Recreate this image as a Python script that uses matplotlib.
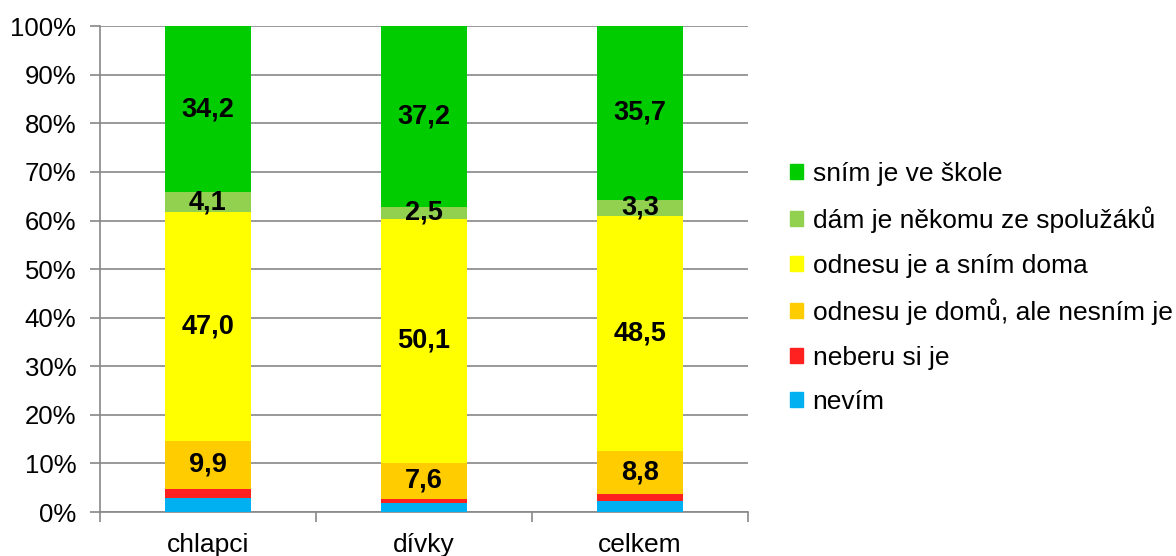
import numpy as np
import matplotlib.pyplot as plt
from matplotlib.patches import Patch

plt.rcParams['font.family'] = ['Liberation Sans', 'DejaVu Sans']

kategorie = ['chlapci', 'dívky', 'celkem']
serie = ['nevím', 'neberu si je', 'odnesu je domů, ale nesním je',
         'odnesu je a sním doma', 'dám je někomu ze spolužáků', 'sním je ve škole']
nevim = [2.8, 1.9, 2.3]
neberu = [2.0, 0.7, 1.4]
domu_nesnim = [9.9, 7.6, 8.8]
doma = [47.0, 50.1, 48.5]
spoluzaci = [4.1, 2.5, 3.3]
ve_skole = [34.2, 37.2, 35.7]
barvy = ['#00B0F0', '#FF2020', '#FFCC00', '#FFFF00', '#92D050', '#00CC00']

hodnoty = [nevim, neberu, domu_nesnim, doma, spoluzaci, ve_skole]
popisky = [False, False, True, True, True, True]

fig = plt.figure(figsize=(11.76, 5.56), dpi=100)
ax = fig.add_axes([0.085, 0.079, 0.551, 0.874])

x = np.arange(len(kategorie))
spodek = np.zeros(len(kategorie))
for vals, barva, pop in zip(hodnoty, barvy, popisky):
    vals = np.array(vals)
    ax.bar(x, vals, 0.395, bottom=spodek, color=barva, zorder=3)
    if pop:
        for xi, v, b in zip(x, vals, spodek):
            ax.text(xi, b + v / 2, f'{v:.1f}'.replace('.', ','), ha='center', va='center',
                    fontsize=19.5, fontweight='bold', zorder=4)
    spodek += vals

ax.set_xlim(-0.5, 2.5)
ax.set_ylim(0, 100)
ax.set_yticks(np.arange(0, 101, 10))
ax.set_yticklabels([f'{t}%' for t in range(0, 101, 10)], fontsize=18.5)
ax.yaxis.grid(True, color='#888888', linewidth=1.2, zorder=0)
ax.set_xticks(x)
ax.set_xticklabels(kategorie, fontsize=19)
ax.tick_params(axis='x', length=0, pad=15)
ax.set_xticks([-0.5, 0.5, 1.5, 2.5], minor=True)
ax.tick_params(axis='x', which='minor', length=7, color='#888888', width=1.2)
ax.tick_params(axis='y', length=7, color='#888888', width=1.2, pad=10)
for s in ['top', 'right']:
    ax.spines[s].set_visible(False)
for s in ['left', 'bottom']:
    ax.spines[s].set_color('#888888')
    ax.spines[s].set_linewidth(1.2)

handles = [Patch(color=c, label=l) for c, l in zip(barvy, serie)][::-1]
fig.legend(handles=handles, loc='center left', bbox_to_anchor=(0.663, 0.482),
           frameon=False, fontsize=19, handlelength=0.5, handleheight=0.5,
           handletextpad=0.35, labelspacing=0.78, borderaxespad=0)

plt.savefig('out.png', dpi=100)
